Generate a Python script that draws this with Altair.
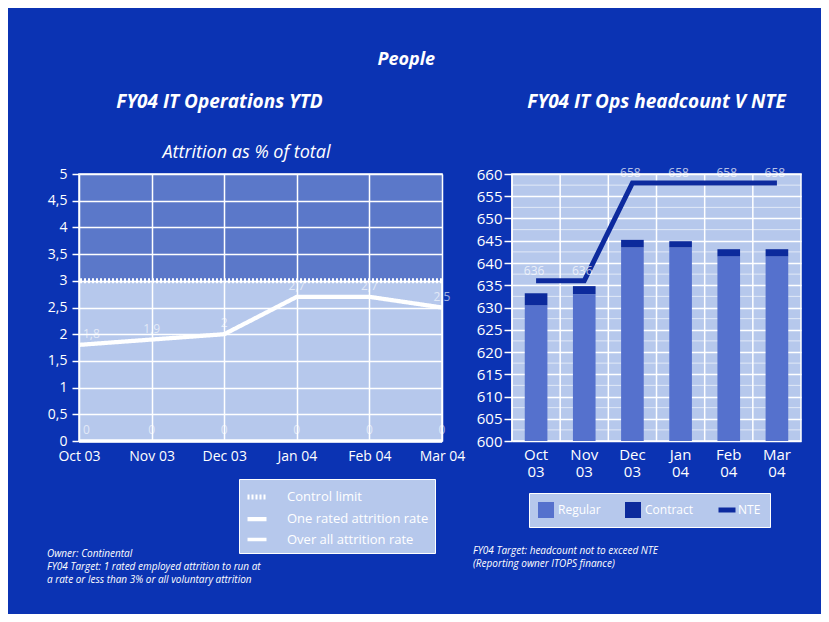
import altair as alt
import pandas as pd

# ---------------- data ----------------
months = ["Oct 03", "Nov 03", "Dec 03", "Jan 04", "Feb 04", "Mar 04"]

# left panel: attrition as % of total
one_rated_rate = [1.8, 1.9, 2.0, 2.7, 2.7, 2.5]
overall_rate = [0, 0, 0, 0, 0, 0]
control_limit = 3
attr_ticks = [0, 0.5, 1, 1.5, 2, 2.5, 3, 3.5, 4, 4.5, 5]
attr_series = ["Control limit", "One rated attrition rate", "Over all attrition rate"]

# right panel: headcount vs NTE
regular = [630.5, 633.0, 643.5, 643.5, 641.5, 641.5]
contract = [2.7, 1.8, 1.7, 1.4, 1.6, 1.6]
nte = [636, 636, 658, 658, 658, 658]
hc_ticks = [600, 605, 610, 615, 620, 625, 630, 635, 640, 645, 650, 655, 660]
hc_minor = [602.5, 607.5, 612.5, 617.5, 622.5, 627.5, 632.5, 637.5, 642.5, 647.5, 652.5, 657.5]
hc_types = ["Regular", "Contract", "NTE"]

main_title = "People"
left_title = "FY04 IT Operations YTD"
left_subtitle = "Attrition as % of total"
right_title = "FY04 IT Ops headcount V NTE"
left_notes = ["Owner: Continental",
              "FY04 Target: 1 rated employed attrition to run at",
              "a rate or less than 3% or all voluntary attrition"]
right_notes = ["FY04 Target: headcount not to exceed NTE",
               "(Reporting owner ITOPS finance)"]

# ---------------- style ----------------
BG = "#0b33b3"
LIGHT = "#b6c8ec"
BAND = "#5b78c9"
REG = "#5571cd"
CON = "#0c2a9c"
NAVY = "#0d2a9e"
FONT = "Open Sans"
W1, W2, H = 363, 289, 267
GAP = 70
RX = W1 + GAP  # x of right panel inside the concat group

# ---------------- left chart ----------------
attr_df = pd.DataFrame({
    "month": months * 2,
    "value": one_rated_rate + overall_rate,
    "series": [attr_series[1]] * len(months) + [attr_series[2]] * len(months),
})
attr_df["label"] = attr_df["value"].map(lambda v: f"{v:g}".replace(".", ","))
cl_df = pd.DataFrame({"value": [control_limit], "top": [attr_ticks[-1]], "series": [attr_series[0]]})

x_left = alt.X("month:N", sort=months, scale=alt.Scale(type="point", padding=0),
               axis=alt.Axis(title=None, labelAngle=0, labelColor="white", labelFont=FONT,
                             labelFontSize=14, grid=True, gridColor="white", gridWidth=1.5,
                             domain=False, ticks=False, labelPadding=8, zindex=1))
y_scale_left = alt.Scale(domain=[attr_ticks[0], attr_ticks[-1]], nice=False)
y_axis_left = alt.Axis(title=None, values=attr_ticks, format="~g",
                       labelExpr="replace(datum.label, '.', ',')",
                       labelColor="white", labelFont=FONT, labelFontSize=14, tickColor="white",
                       tickSize=7, tickWidth=1.5, labelPadding=5, grid=True, gridColor="white",
                       gridWidth=1.5, domain=False, zindex=1)
y_left = alt.Y("value:Q", scale=y_scale_left, axis=y_axis_left)

left_legend = alt.Legend(title=None, orient="none", legendX=160, legendY=305, fillColor=LIGHT,
                         strokeColor="white", padding=6, labelColor="white", labelFont=FONT,
                         labelFontSize=13, labelOffset=18, symbolSize=361, symbolType="stroke",
                         symbolStrokeColor="white", rowPadding=0, labelLimit=300)
dash = alt.StrokeDash("series:N", scale=alt.Scale(domain=attr_series, range=[[2, 2], [1, 0], [1, 0]]),
                      legend=left_legend)
width = alt.StrokeWidth("series:N", scale=alt.Scale(domain=attr_series, range=[5, 3.5, 2.5]),
                        legend=left_legend)

band = alt.Chart(cl_df).mark_rect(color=BAND).encode(
    y=y_left, y2="top:Q", x=alt.value(0), x2=alt.value(W1))
cl_rule = alt.Chart(cl_df).mark_rule(color="white").encode(
    y=y_left, strokeDash=dash, strokeWidth=width)
lines = alt.Chart(attr_df).mark_line(color="white").encode(
    x=x_left, y=y_left, strokeDash=dash, strokeWidth=width)
first_labels = alt.Chart(attr_df).transform_filter(
    alt.FieldEqualPredicate(field="month", equal=months[0])
).mark_text(color="white", opacity=0.6, dy=-11, dx=4, align="left", font=FONT,
            fontSize=12).encode(x=x_left, y=y_left, text="label:N")
other_labels = alt.Chart(attr_df).transform_filter(
    alt.FieldOneOfPredicate(field="month", oneOf=months[1:])
).mark_text(color="white", opacity=0.6, dy=-11, font=FONT,
            fontSize=12).encode(x=x_left, y=y_left, text="label:N")
subtitle_text = alt.Chart(pd.DataFrame({"n": [0]})).mark_text(
    align="center", baseline="middle", color="white", font=FONT, fontSize=18,
    fontStyle="italic").encode(x=alt.value(W1 / 2 - 14), y=alt.value(-21),
                               text=alt.value(left_subtitle))
left_foot = alt.Chart(pd.DataFrame({"n": [0]})).mark_text(
    align="left", baseline="top", color="white", font=FONT, fontSize=10, fontStyle="italic",
    lineHeight=13).encode(x=alt.value(-32), y=alt.value(375), text=alt.value(left_notes))

left = alt.layer(band, cl_rule, lines, first_labels, other_labels, subtitle_text,
                 left_foot).properties(
    width=W1, height=H,
    title=alt.TitleParams(left_title, anchor="middle", frame="group", dx=-41, offset=32,
                          color="white", font=FONT, fontSize=19, fontStyle="italic",
                          fontWeight="bold"))

# ---------------- right chart ----------------
totals = [r + c for r, c in zip(regular, contract)]
bar_df = pd.DataFrame({
    "month": months * 2,
    "type": [hc_types[0]] * len(months) + [hc_types[1]] * len(months),
    "lo": [hc_ticks[0]] * len(months) + regular,
    "hi": regular + totals,
})
nte_df = pd.DataFrame({"month": months, "nte": nte, "series": [hc_types[2]] * len(months)})
minor_df = pd.DataFrame({"v": hc_minor})

x_scale_right = alt.Scale(paddingInner=0, paddingOuter=0)
x_axis_right = alt.Axis(title=None, labelAngle=0, labelExpr="split(datum.label, ' ')",
                        labelColor="white", labelFont=FONT, labelFontSize=15, grid=False,
                        domain=False, ticks=False, labelPadding=6, labelLineHeight=17)
x_right = alt.X("month:N", sort=months, scale=x_scale_right, axis=x_axis_right)
y_scale_right = alt.Scale(domain=[hc_ticks[0], hc_ticks[-1]], nice=False, zero=False)
y_axis_right = alt.Axis(title=None, values=hc_ticks, labelColor="white", labelFont=FONT,
                        labelFontSize=15, tickColor="white", tickSize=8, tickWidth=1.5,
                        labelPadding=2, grid=True, gridColor="white", gridWidth=1.5, domain=False)

vrules = alt.Chart(nte_df).mark_rule(color="white", strokeWidth=1.5).encode(
    x=alt.X("month:N", sort=months, bandPosition=0, scale=x_scale_right, axis=x_axis_right))
hminor = alt.Chart(minor_df).mark_rule(color="white", strokeWidth=1, opacity=0.6).encode(
    y=alt.Y("v:Q", scale=y_scale_right, axis=y_axis_right))
bars = alt.Chart(bar_df).mark_bar(width=alt.RelativeBandSize(0.47)).encode(
    x=x_right, y=alt.Y("hi:Q", scale=y_scale_right, axis=y_axis_right), y2="lo:Q",
    fill=alt.Fill("type:N", scale=alt.Scale(domain=hc_types, range=[REG, CON, LIGHT]),
                  legend=alt.Legend(title=None, orient="none", legendX=RX + 17, legendY=319,
                                    direction="horizontal", fillColor=LIGHT, strokeColor="white",
                                    padding=9, symbolType="square", symbolSize=256,
                                    symbolStrokeWidth=0, labelColor="white", labelFont=FONT,
                                    labelFontSize=12, columnPadding=24)))
nte_line = alt.Chart(nte_df).mark_line(strokeWidth=5).encode(
    x=x_right, y=alt.Y("nte:Q", scale=y_scale_right, axis=y_axis_right),
    stroke=alt.Stroke("series:N", scale=alt.Scale(domain=[hc_types[2]], range=[NAVY]),
                      legend=alt.Legend(title=None, orient="none", legendX=RX + 204, legendY=325,
                                        symbolType="stroke", symbolSize=289,
                                        symbolStrokeWidth=5, labelOpacity=0, padding=0)))
nte_labels = alt.Chart(nte_df).mark_text(color="white", opacity=0.7, dy=-10, dx=-2, font=FONT,
                                         fontSize=12).encode(
    x=x_right, y=alt.Y("nte:Q", scale=y_scale_right, axis=y_axis_right), text="nte:Q")
right_foot = alt.Chart(pd.DataFrame({"n": [0]})).mark_text(
    align="left", baseline="top", color="white", font=FONT, fontSize=10, fontStyle="italic",
    lineHeight=13).encode(x=alt.value(-39), y=alt.value(372), text=alt.value(right_notes))

right = alt.layer(vrules, hminor, bars, nte_line, nte_labels, right_foot).properties(
    width=W2, height=H,
    title=alt.TitleParams(right_title, anchor="middle", frame="group", offset=55,
                          color="white", font=FONT, fontSize=19, fontStyle="italic",
                          fontWeight="bold"))

chart = alt.hconcat(left, right, spacing=GAP, bounds="flush").properties(
    title=alt.TitleParams(main_title, anchor="middle", dx=-18, offset=23, color="white",
                          font=FONT, fontSize=18, fontStyle="italic", fontWeight="bold"),
    padding={"left": 38, "top": 43, "right": 18, "bottom": 28},
    background=BG,
).configure_view(fill=LIGHT, stroke="white", strokeWidth=1.5)

chart.save("out.html", embed_options={"renderer": "svg", "actions": False})
